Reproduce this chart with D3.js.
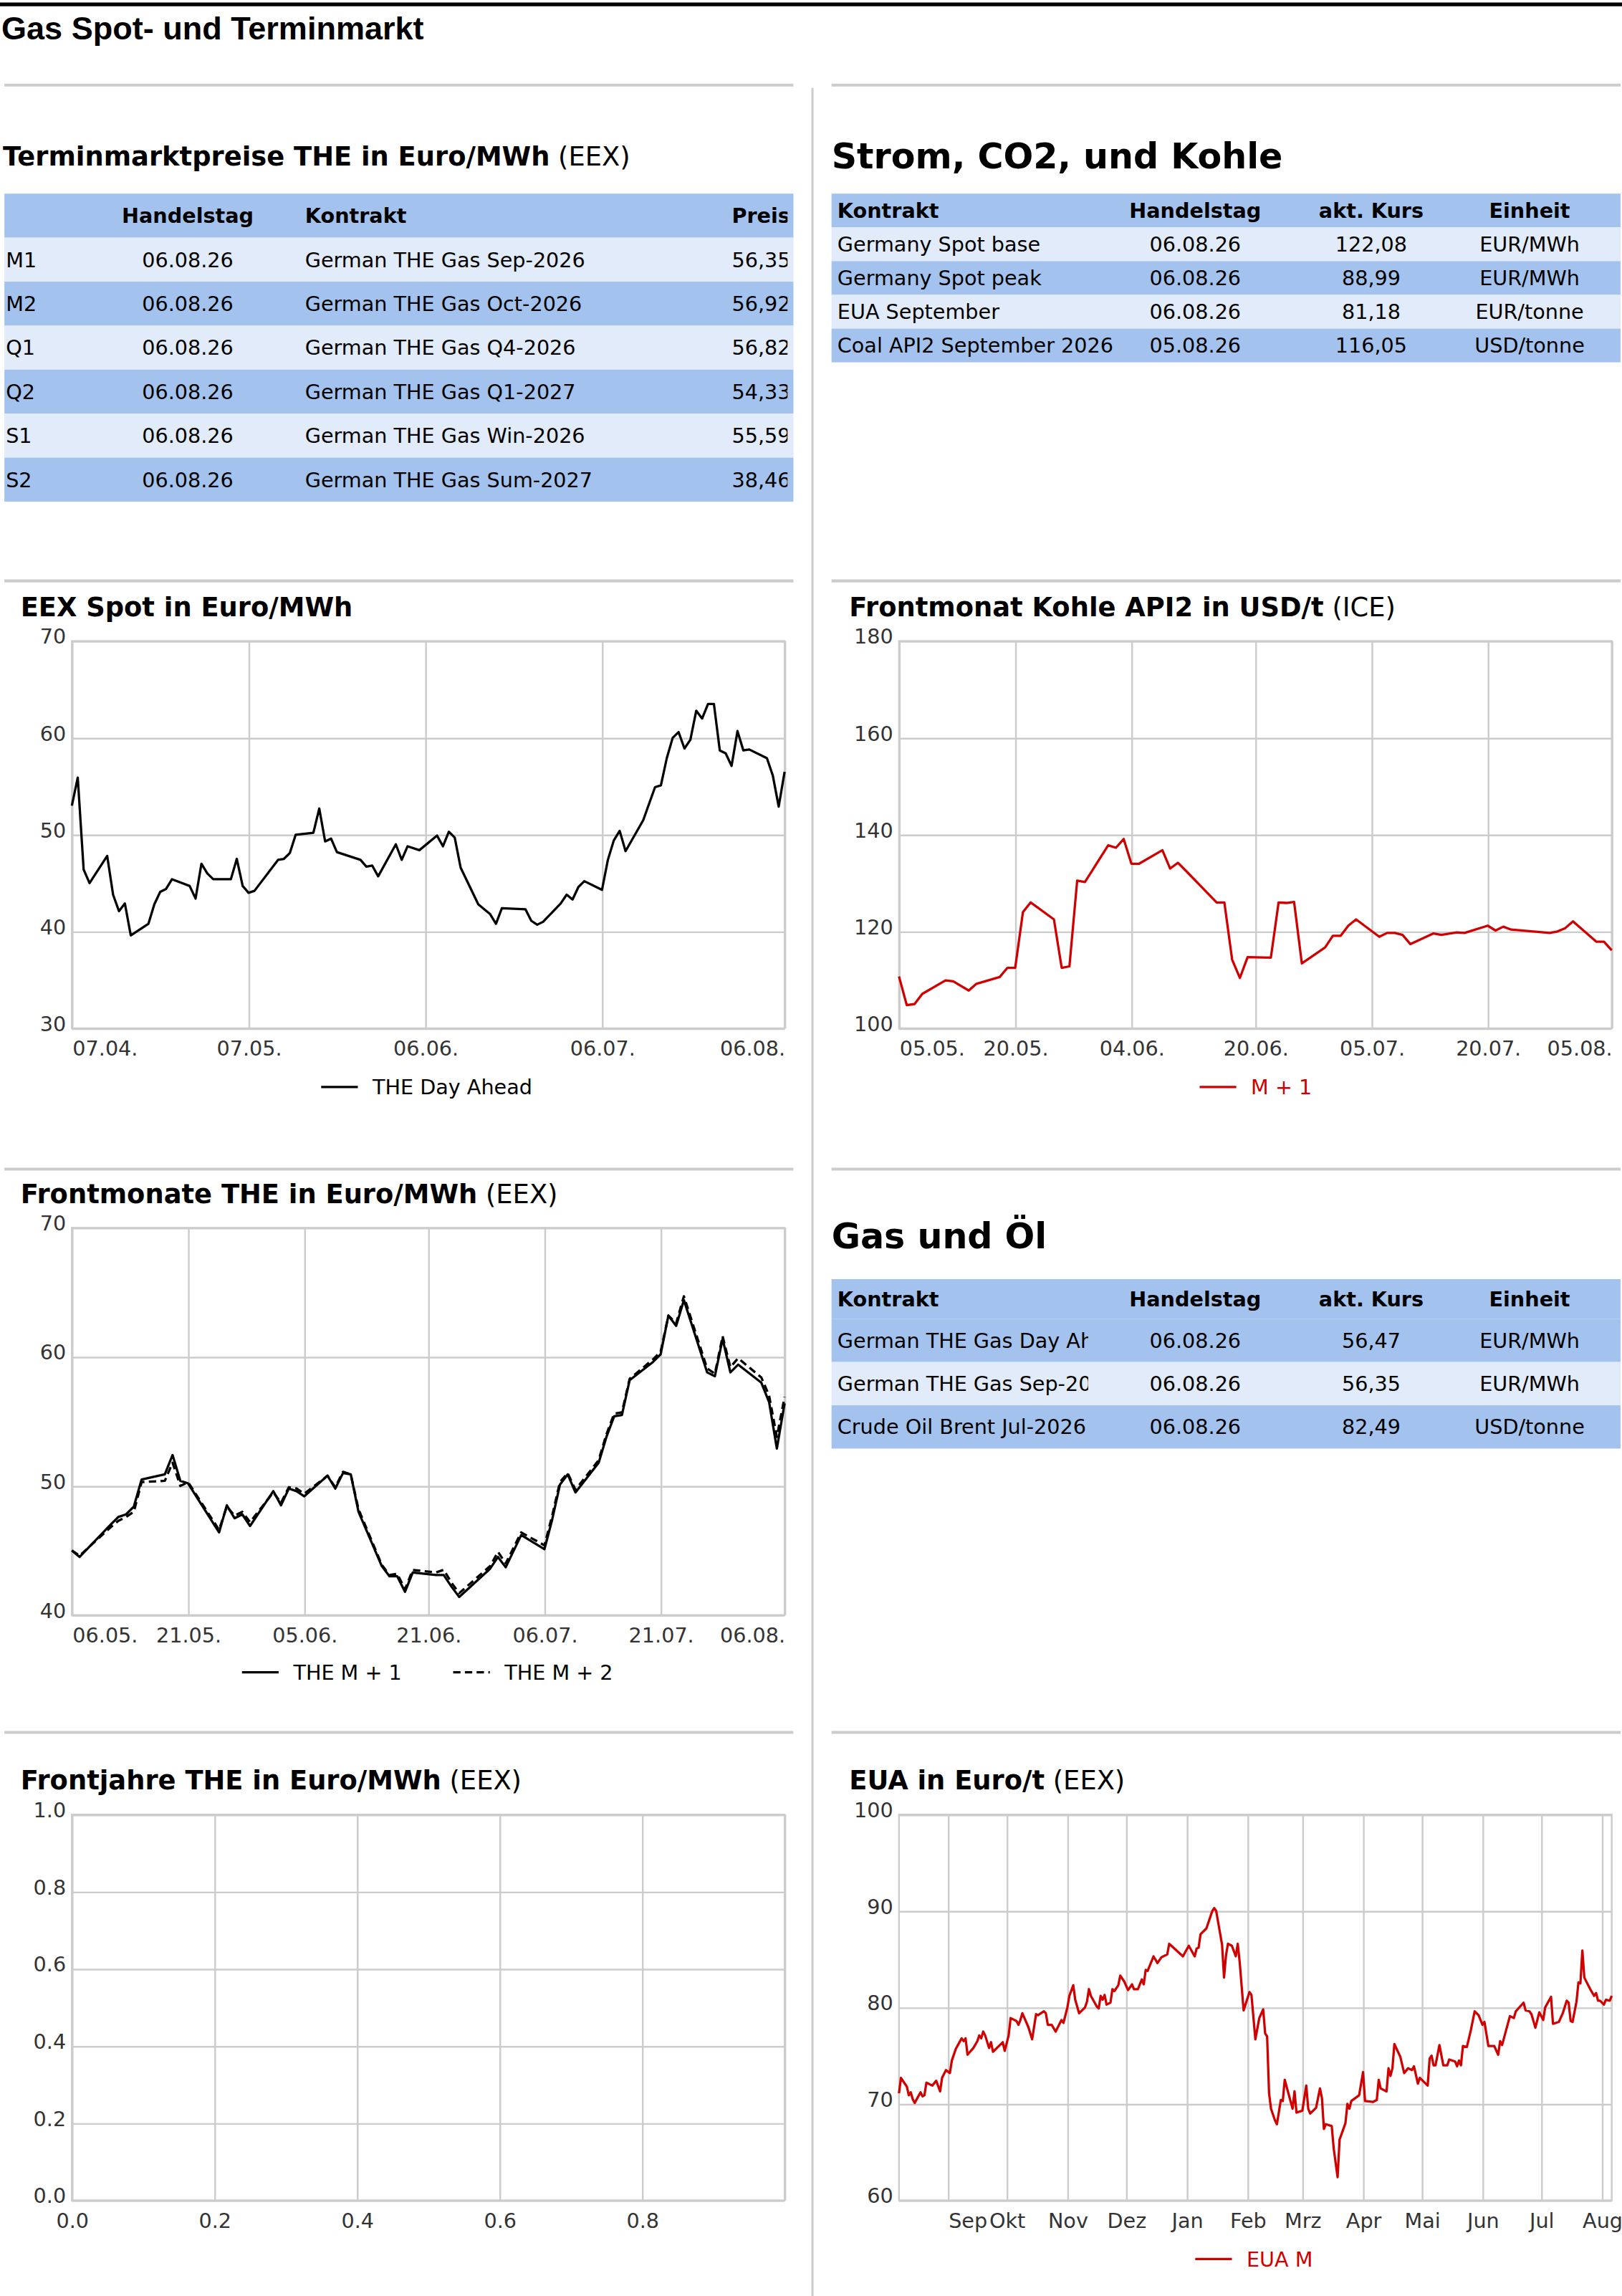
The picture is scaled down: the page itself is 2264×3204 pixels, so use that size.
<!DOCTYPE html>
<html><head><meta charset="utf-8">
<script src="https://cdn.jsdelivr.net/npm/d3@7"></script>
<style>body{margin:0;background:#fff}svg{display:block}</style>
</head><body>
<script>
// ---- data ----
var termRows = [
  ["M1", "06.08.26", "German THE Gas Sep-2026", "56,35"],
  ["M2", "06.08.26", "German THE Gas Oct-2026", "56,92"],
  ["Q1", "06.08.26", "German THE Gas Q4-2026", "56,82"],
  ["Q2", "06.08.26", "German THE Gas Q1-2027", "54,33"],
  ["S1", "06.08.26", "German THE Gas Win-2026", "55,59"],
  ["S2", "06.08.26", "German THE Gas Sum-2027", "38,46"]
];
var stromRows = [
  ["Germany Spot base", "06.08.26", "122,08", "EUR/MWh"],
  ["Germany Spot peak", "06.08.26", "88,99", "EUR/MWh"],
  ["EUA September", "06.08.26", "81,18", "EUR/tonne"],
  ["Coal API2 September 2026", "05.08.26", "116,05", "USD/tonne"]
];
var gasOelRows = [
  ["German THE Gas Day Ahead", "06.08.26", "56,47", "EUR/MWh"],
  ["German THE Gas Sep-2026", "06.08.26", "56,35", "EUR/MWh"],
  ["Crude Oil Brent Jul-2026", "06.08.26", "82,49", "USD/tonne"]
];

// EEX Spot: days after 07.04.2026
var spotStart = "2026-04-07";
var spotDays = [0,1,2,3,6,7,8,9,10,13,14,15,16,17,20,21,22,23,24,27,28,29,30,31,35,36,37,38,41,42,43,44,45,49,50,51,52,55,56,57,59,62,63,64,65,66,69,71,72,73,77,78,79,80,83,84,85,86,87,90,91,92,93,94,97,99,100,101,102,103,104,105,106,107,108,109,110,111,112,113,114,115,118,119,120,121];
var spotVals = [53.0,55.9,46.4,45.0,47.8,43.8,42.1,42.9,39.6,40.8,42.8,44.1,44.4,45.4,44.7,43.4,47.0,46.0,45.4,45.4,47.5,44.7,44.0,44.2,47.4,47.5,48.1,50.0,50.2,52.7,49.3,49.6,48.2,47.4,46.7,46.8,45.7,49.0,47.4,48.8,48.4,49.9,48.8,50.3,49.7,46.6,42.8,41.8,40.8,42.4,42.3,41.1,40.7,41.0,42.9,43.8,43.3,44.6,45.2,44.3,47.4,49.4,50.4,48.3,51.5,54.9,55.1,57.9,60.0,60.6,58.9,59.8,62.8,62.0,63.5,63.5,58.7,58.4,57.1,60.7,58.7,58.8,57.9,56.1,52.9,56.5];

// Kohle API2 M+1: days after 05.05.2026
var coalStart = "2026-05-05";
var coalDays = [0,1,2,3,6,7,9,10,13,14,15,16,17,20,21,22,23,24,27,28,29,30,31,34,35,36,37,41,42,43,44,45,48,49,50,51,52,55,56,57,58,59,62,63,64,65,66,69,70,72,73,76,77,78,79,84,85,86,87,90,91,92];
var coalVals = [110.7,104.8,105.0,107.1,109.9,109.7,107.8,109.2,110.6,112.5,112.5,124.0,126.0,122.5,112.5,112.8,130.5,130.2,137.8,137.3,139.1,134.0,134.0,136.8,133.0,134.2,132.6,126.0,126.0,114.2,110.4,114.7,114.6,126.0,125.9,126.1,113.4,116.7,119.1,119.1,121.2,122.5,118.9,119.7,119.7,119.3,117.4,119.6,119.3,119.8,119.7,121.2,120.2,121.0,120.4,119.7,120.0,120.7,122.1,117.9,117.9,116.1];

// Frontmonate THE: days after 06.05.2026
var frontStart = "2026-05-06";
var frontDays = [0,1,5,6,7,8,9,12,13,14,15,19,20,21,22,23,26,27,28,29,30,33,34,35,36,37,40,41,42,43,44,47,48,49,50,54,55,56,58,61,62,63,64,65,68,69,70,71,72,75,76,77,78,79,82,83,84,85,86,89,90,91,92];
var m1Vals = [45.0,44.5,47.0,47.6,47.8,48.4,50.5,50.9,52.4,50.4,50.2,46.4,48.5,47.5,47.8,46.9,49.6,48.5,49.8,49.6,49.2,50.8,49.8,51.0,50.9,48.0,43.8,43.0,43.0,41.8,43.3,43.1,43.1,42.2,41.4,43.6,44.5,43.7,46.2,45.1,47.4,50.1,50.9,49.5,51.8,53.8,55.4,55.5,58.2,59.6,60.2,63.2,62.4,64.4,58.8,58.5,61.4,58.8,59.4,58.0,56.5,52.9,56.4];
var m2Vals = [45.0,44.6,46.8,47.3,47.6,48.0,50.3,50.4,51.8,50.0,50.3,46.6,48.4,47.7,48.0,47.2,49.5,48.7,49.9,49.8,49.4,50.8,49.9,51.1,50.9,48.2,43.9,43.1,43.2,42.0,43.5,43.3,43.5,42.5,41.7,43.8,44.9,44.0,46.4,45.4,47.7,50.3,51.0,49.7,52.0,54.0,55.6,55.7,58.3,59.8,60.4,63.2,62.6,64.7,59.1,58.7,61.6,59.2,59.9,58.4,57.0,53.8,56.9];

// EUA M: days after 07.08.2025
var euaStart = "2025-08-07";
var euaDays = [0,1,4,5,6,7,8,11,12,13,14,17,19,21,22,24,26,27,29,32,33,34,35,38,40,41,42,43,44,46,47,48,53,54,56,57,60,61,62,63,66,68,70,71,74,75,76,78,80,83,84,86,87,89,90,92,95,96,97,98,101,102,103,104,105,106,108,109,110,112,113,115,117,119,120,122,124,125,126,127,130,132,134,137,138,145,148,151,152,153,154,157,160,161,162,165,166,167,168,170,172,173,174,176,179,180,182,184,186,187,188,189,190,192,193,195,196,197,201,202,203,206,208,209,210,213,215,216,217,218,221,222,224,225,228,229,230,231,235,237,238,242,244,245,246,249,250,251,252,253,256,258,260,262,263,265,266,270,271,272,273,274,276,278,280,281,284,285,286,287,288,290,292,294,296,298,299,301,304,306,307,308,310,312,314,315,319,320,322,323,325,327,329,330,333,334,337,339,341,342,343,344,346,347,348,349,350,353,355,356,357,358,360,361,363,364];
var euaVals = [71.1,72.7,71.8,70.9,71.2,70.5,70.1,71.2,70.8,70.9,72.2,71.9,72.4,71.3,72.7,73.5,73.2,74.5,75.7,76.8,76.5,76.8,75.1,75.8,76.5,77.1,76.8,77.5,77.1,75.8,76.4,75.4,76.4,75.5,77.1,78.9,78.6,78.2,78.7,79.4,78.0,76.7,79.3,79.2,79.6,79.4,78.2,78.2,77.5,78.7,78.4,80.0,81.2,82.3,80.8,79.4,80.0,80.6,81.9,81.2,80.1,79.9,81.2,80.8,81.3,80.3,80.5,81.9,81.7,82.3,83.3,82.7,81.8,82.4,81.9,81.9,82.9,82.4,83.9,83.8,85.3,84.6,85.2,85.5,86.6,85.3,86.4,85.3,86.1,86.2,87.6,88.2,90.0,90.3,90.0,86.5,83.1,85.4,86.6,86.4,85.3,86.6,84.7,79.7,81.6,81.3,76.7,78.9,79.8,77.3,77.0,71.1,69.5,68.3,67.9,70.4,70.3,72.5,69.5,71.3,69.1,69.3,71.9,69.5,69.0,69.6,71.6,70.6,67.4,67.9,67.7,65.4,62.4,66.3,68.0,70.0,69.5,70.3,70.9,73.3,70.3,70.2,70.4,72.5,71.6,71.3,73.7,72.9,73.7,76.2,74.9,73.2,73.7,73.5,73.9,72.1,72.7,71.9,74.7,75.0,74.0,74.0,76.1,74.0,74.0,74.6,74.4,73.9,74.5,74.0,76.0,75.9,77.6,79.6,79.2,78.2,78.5,76.0,76.0,75.1,76.5,76.1,77.6,79.1,78.9,79.6,80.5,79.7,79.6,79.3,77.9,79.5,78.7,80.0,81.1,78.3,78.5,79.4,80.7,80.5,78.6,78.5,80.6,82.6,82.5,85.9,83.1,81.9,81.2,81.5,80.7,80.7,80.3,80.8,80.7,81.2];
var euaMonths = ["2025-09-01","2025-10-01","2025-11-01","2025-12-01","2026-01-01","2026-02-01","2026-03-01","2026-04-01","2026-05-01","2026-06-01","2026-07-01","2026-08-01"];
var euaMonthNames = ["Sep","Okt","Nov","Dez","Jan","Feb","Mrz","Apr","Mai","Jun","Jul","Aug"];

var ticksSpot = ["2026-04-07","2026-05-07","2026-06-06","2026-07-06","2026-08-06"];
var ticksCoal = ["2026-05-05","2026-05-20","2026-06-04","2026-06-20","2026-07-05","2026-07-20","2026-08-05"];
var ticksFront = ["2026-05-06","2026-05-21","2026-06-05","2026-06-21","2026-07-06","2026-07-21","2026-08-06"];

// ---- drawing ----
var FONT = "DejaVu Sans, sans-serif";
var DARK = "#a3c3ee", LIGHT = "#e1ebf9", GRID = "#cccccc", RED = "#d00000";
var parse = d3.timeParse("%Y-%m-%d"), fmt = d3.timeFormat("%d.%m.");

var svg = d3.select("body").append("svg")
  .attr("width", 2264).attr("height", 3204)
  .attr("viewBox", "0 0 1106 1565.2")
  .style("font-family", FONT);
var defs = svg.append("defs");

svg.append("line").attr("x1", 0).attr("x2", 1106).attr("y1", 3).attr("y2", 3)
  .attr("stroke", "#000").attr("stroke-width", 2.5);
svg.append("text").attr("x", 1).attr("y", 27).text("Gas Spot- und Terminmarkt")
  .style("font-family", "Liberation Sans, Arial, sans-serif").style("font-weight", "bold").style("font-size", "22px");

[58, 396, 797, 1181].forEach(function(y) {
  svg.append("line").attr("x1", 3).attr("x2", 541).attr("y1", y).attr("y2", y).attr("stroke", GRID).attr("stroke-width", 2);
  svg.append("line").attr("x1", 567).attr("x2", 1105).attr("y1", y).attr("y2", y).attr("stroke", GRID).attr("stroke-width", 2);
});
svg.append("line").attr("x1", 554).attr("x2", 554).attr("y1", 60).attr("y2", 1566).attr("stroke", GRID).attr("stroke-width", 1.5);

function title(x, y, bold, normal, size) {
  var t = svg.append("text").attr("x", x).attr("y", y).style("font-size", size + "px");
  t.append("tspan").style("font-weight", "bold").text(bold);
  if (normal) t.append("tspan").text(" " + normal);
}

var clipId = 0;
function clipRect(x, y, w, h) {
  var id = "c" + (clipId++);
  defs.append("clipPath").attr("id", id).append("rect").attr("x", x).attr("y", y).attr("width", w).attr("height", h);
  return "url(#" + id + ")";
}

// cols: {x, anchor, clip}
function table(x, y, w, headH, rowH, header, rows, cols, colors) {
  var g = svg.append("g").style("font-size", "14px");
  g.append("rect").attr("x", x).attr("y", y).attr("width", w).attr("height", headH).attr("fill", DARK);
  rows.forEach(function(r, i) {
    g.append("rect").attr("x", x).attr("y", y + headH + i * rowH).attr("width", w).attr("height", rowH).attr("fill", colors[i]);
  });
  function cells(vals, cy, h, bold) {
    vals.forEach(function(v, j) {
      var c = cols[j];
      var t = g.append("text").attr("x", c.x).attr("y", cy + h / 2 + 5).attr("text-anchor", c.anchor).text(v);
      if (bold) t.style("font-weight", "bold");
      if (c.clip) t.attr("clip-path", clipRect(c.clip[0], cy, c.clip[1] - c.clip[0], h));
    });
  }
  cells(header, y, headH, true);
  rows.forEach(function(r, i) { cells(r, y + headH + i * rowH, rowH, false); });
}

title(2, 113, "Terminmarktpreise THE in Euro/MWh", "(EEX)", 18);
table(3, 132, 538, 30, 30, ["", "Handelstag", "Kontrakt", "Preis"], termRows,
  [{x: 4, anchor: "start"}, {x: 128, anchor: "middle"}, {x: 208, anchor: "start"}, {x: 499, anchor: "start", clip: [495, 537]}],
  [LIGHT, DARK, LIGHT, DARK, LIGHT, DARK]);

title(567, 115, "Strom, CO2, und Kohle", null, 24);
var rCols = [{x: 571, anchor: "start", clip: [567, 765]}, {x: 815, anchor: "middle"}, {x: 935, anchor: "middle"}, {x: 1043, anchor: "middle"}];
table(567, 132, 538, 23, 23, ["Kontrakt", "Handelstag", "akt. Kurs", "Einheit"], stromRows, rCols, [LIGHT, DARK, LIGHT, DARK]);

title(567, 851, "Gas und Öl", null, 24);
var oCols = [{x: 571, anchor: "start", clip: [567, 742]}, {x: 815, anchor: "middle"}, {x: 935, anchor: "middle"}, {x: 1043, anchor: "middle"}];
table(567, 872, 538, 27, 29.5, ["Kontrakt", "Handelstag", "akt. Kurs", "Einheit"], gasOelRows, oCols, [DARK, LIGHT, DARK]);

function toPoints(start, days, vals) {
  var s = parse(start);
  return days.map(function(d, i) { return {date: d3.timeDay.offset(s, d), v: vals[i]}; });
}

// generic chart
function chart(o) {
  var g = svg.append("g").style("font-size", "14px");
  var x = o.x, y = d3.scaleLinear().domain(o.yDomain).range([o.bottom, o.top]);
  // horizontal grid
  g.append("g").attr("transform", "translate(" + o.left + ",0)")
    .call(d3.axisLeft(y).tickValues(o.yTicks).tickSize(-(o.right - o.left)).tickFormat(o.yFmt || d3.format("d")))
    .call(function(a) {
      a.select(".domain").remove();
      a.selectAll("line").attr("stroke", GRID).attr("stroke-width", 1.2);
      a.selectAll("text").attr("fill", "#333").attr("x", -4).attr("dy", "0.1em").style("font-family", FONT).style("font-size", "14px");
    });
  // vertical grid + labels
  g.append("g").attr("transform", "translate(0," + o.bottom + ")")
    .call(d3.axisBottom(x).tickValues(o.xTicks).tickSize(-(o.bottom - o.top)).tickFormat(o.xFmt))
    .call(function(a) {
      a.select(".domain").remove();
      a.selectAll("line").attr("stroke", GRID).attr("stroke-width", 1.2);
      a.selectAll("text").attr("fill", "#333").attr("y", 6).attr("dy", "0.9em").style("font-family", FONT).style("font-size", "14px");
      if (o.clampEnds) {
        var txt = a.selectAll("text"), n = txt.size();
        txt.each(function(d, i) {
          if (i === 0) d3.select(this).attr("text-anchor", "start");
          if (i === n - 1) d3.select(this).attr("text-anchor", "end");
        });
      }
    });
  g.append("rect").attr("x", o.left).attr("y", o.top).attr("width", o.right - o.left).attr("height", o.bottom - o.top)
    .attr("fill", "none").attr("stroke", GRID).attr("stroke-width", 1.2);
  var line = d3.line().x(function(d) { return x(d.date); }).y(function(d) { return y(d.v); });
  (o.series || []).forEach(function(s) {
    g.append("path").datum(s.data).attr("d", line).attr("fill", "none")
      .attr("stroke", s.color).attr("stroke-width", 1.6).attr("stroke-dasharray", s.dash || null)
      .attr("stroke-linejoin", "round");
  });
  (o.legend || []).forEach(function(l) {
    g.append("line").attr("x1", l.x).attr("x2", l.x + 25).attr("y1", o.legendY - 5).attr("y2", o.legendY - 5)
      .attr("stroke", l.color).attr("stroke-width", 1.6).attr("stroke-dasharray", l.dash || null);
    g.append("text").attr("x", l.x + 35).attr("y", o.legendY).attr("fill", l.textColor || "#000").text(l.name);
  });
  return g;
}

// EEX Spot
title(14, 420, "EEX Spot in Euro/MWh", null, 18);
chart({
  left: 49, right: 535, top: 437, bottom: 701,
  x: d3.scaleTime().domain([parse("2026-04-07"), parse("2026-08-06")]).range([49, 535]),
  yDomain: [30, 70], yTicks: [30, 40, 50, 60, 70],
  xTicks: ticksSpot.map(parse), xFmt: fmt, clampEnds: true,
  series: [{data: toPoints(spotStart, spotDays, spotVals), color: "#000"}],
  legend: [{x: 219, name: "THE Day Ahead", color: "#000"}], legendY: 746
});

// Kohle
title(579, 420, "Frontmonat Kohle API2 in USD/t", "(ICE)", 18);
chart({
  left: 613, right: 1099, top: 437, bottom: 701,
  x: d3.scaleTime().domain([parse("2026-05-05"), parse("2026-08-05")]).range([613, 1099]),
  yDomain: [100, 180], yTicks: [100, 120, 140, 160, 180],
  xTicks: ticksCoal.map(parse), xFmt: fmt, clampEnds: true,
  series: [{data: toPoints(coalStart, coalDays, coalVals), color: RED}],
  legend: [{x: 818, name: "M + 1", color: RED, textColor: RED}], legendY: 746
});

// Frontmonate
title(14, 820, "Frontmonate THE in Euro/MWh", "(EEX)", 18);
chart({
  left: 49, right: 535, top: 837, bottom: 1101,
  x: d3.scaleTime().domain([parse("2026-05-06"), parse("2026-08-06")]).range([49, 535]),
  yDomain: [40, 70], yTicks: [40, 50, 60, 70],
  xTicks: ticksFront.map(parse), xFmt: fmt, clampEnds: true,
  series: [{data: toPoints(frontStart, frontDays, m2Vals), color: "#000", dash: "5,3"},
           {data: toPoints(frontStart, frontDays, m1Vals), color: "#000"}],
  legend: [{x: 165, name: "THE M + 1", color: "#000"}, {x: 309, name: "THE M + 2", color: "#000", dash: "5,3"}],
  legendY: 1145
});

// Frontjahre (empty)
title(14, 1220, "Frontjahre THE in Euro/MWh", "(EEX)", 18);
var fj = chart({
  left: 49, right: 535, top: 1237, bottom: 1500,
  x: d3.scaleLinear().domain([0, 1]).range([49, 535]),
  yDomain: [0, 1], yTicks: [0, 0.2, 0.4, 0.6, 0.8, 1.0], yFmt: d3.format(".1f"),
  xTicks: [0, 0.2, 0.4, 0.6, 0.8, 1.0], xFmt: d3.format(".1f")
});
fj.selectAll("text").filter(function(d) { return d === 1 && this.getAttribute("y") === "6"; })
  .attr("clip-path", clipRect(520, 1500, 20, 30));

// EUA
title(579, 1220, "EUA in Euro/t", "(EEX)", 18);
var eua = chart({
  left: 613, right: 1099, top: 1237, bottom: 1500,
  x: d3.scaleTime().domain([parse("2025-08-07"), parse("2026-08-06")]).range([613, 1099]),
  yDomain: [60, 100], yTicks: [60, 70, 80, 90, 100],
  xTicks: euaMonths.map(parse), xFmt: function(d, i) { return euaMonthNames[i]; },
  series: [{data: toPoints(euaStart, euaDays, euaVals), color: RED}],
  legend: [{x: 815, name: "EUA M", color: RED, textColor: RED}], legendY: 1545
});
eua.selectAll("g.tick text").filter(function(d) { return d instanceof Date && d.getMonth() === 8; }).attr("text-anchor", "start");
</script>
</body></html>
